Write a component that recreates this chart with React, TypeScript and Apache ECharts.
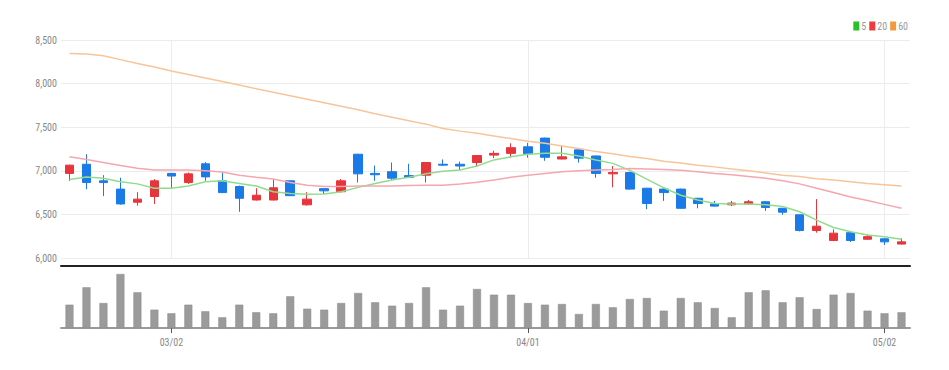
import { useEffect, useRef } from "react";
import * as echarts from "echarts";

const dates = [
  "2022-02-21", "2022-02-22", "2022-02-23", "2022-02-24", "2022-02-25", "2022-02-28",
  "2022-03-02", "2022-03-03", "2022-03-04", "2022-03-07", "2022-03-08", "2022-03-10",
  "2022-03-11", "2022-03-14", "2022-03-15", "2022-03-16", "2022-03-17", "2022-03-18",
  "2022-03-21", "2022-03-22", "2022-03-23", "2022-03-24", "2022-03-25", "2022-03-28",
  "2022-03-29", "2022-03-30", "2022-03-31", "2022-04-01", "2022-04-04", "2022-04-05",
  "2022-04-06", "2022-04-07", "2022-04-08", "2022-04-11", "2022-04-12", "2022-04-13",
  "2022-04-14", "2022-04-15", "2022-04-18", "2022-04-19", "2022-04-20", "2022-04-21",
  "2022-04-22", "2022-04-25", "2022-04-26", "2022-04-27", "2022-04-28", "2022-04-29",
  "2022-05-02", "2022-05-03",
];

const opens = [
  6970, 7075, 6885, 6790, 6640, 6705, 6970, 6865, 7080, 6885,
  6820, 6665, 6665, 6885, 6610, 6795, 6760, 7190, 6970, 6990,
  6945, 6950, 7075, 7075, 7095, 7180, 7200, 7275, 7375, 7135,
  7240, 7170, 6965, 6980, 6800, 6790, 6790, 6685, 6620, 6610,
  6620, 6645, 6570, 6495, 6315, 6200, 6290, 6215, 6220, 6160,
];
const closes = [
  7065, 6865, 6865, 6620, 6675, 6885, 6940, 6965, 6930, 6750,
  6685, 6720, 6805, 6715, 6675, 6770, 6885, 6965, 6955, 6915,
  6925, 7095, 7065, 7055, 7175, 7200, 7265, 7195, 7155, 7160,
  7145, 6970, 6980, 6790, 6625, 6750, 6570, 6625, 6595, 6630,
  6645, 6580, 6525, 6315, 6365, 6285, 6200, 6245, 6185, 6185,
];
const lows = [
  6885, 6790, 6710, 6610, 6600, 6620, 6800, 6850, 6885, 6745,
  6530, 6660, 6660, 6710, 6600, 6735, 6750, 6865, 6885, 6895,
  6920, 6865, 7055, 7010, 7045, 7145, 7150, 7150, 7115, 7130,
  7095, 6920, 6810, 6785, 6560, 6655, 6565, 6570, 6590, 6595,
  6610, 6540, 6495, 6305, 6290, 6195, 6185, 6210, 6150, 6155,
];
const highs = [
  7070, 7190, 6950, 6920, 6755, 6905, 6975, 6980, 7100, 6980,
  6830, 6800, 6905, 6890, 6755, 6800, 6905, 7195, 7060, 7095,
  7080, 7100, 7130, 7105, 7180, 7230, 7315, 7320, 7380, 7285,
  7245, 7175, 7055, 6990, 6805, 6800, 6795, 6690, 6655, 6655,
  6665, 6650, 6575, 6500, 6675, 6330, 6310, 6270, 6225, 6225,
];

const volumes = [
  233000, 407000, 250000, 540000, 357000, 183000, 147000, 233000, 167000, 107000,
  233000, 157000, 147000, 317000, 193000, 183000, 250000, 350000, 257000, 223000,
  250000, 407000, 183000, 223000, 390000, 333000, 333000, 250000, 233000, 240000,
  140000, 240000, 207000, 290000, 300000, 173000, 300000, 257000, 200000, 107000,
  357000, 377000, 257000, 307000, 190000, 333000, 350000, 173000, 147000, 157000,
];

const ma5 = [
  6900, 6930, 6915, 6875, 6850, 6800, 6800, 6825, 6875, 6885,
  6855, 6825, 6760, 6740, 6730, 6735, 6760, 6810, 6855, 6895,
  6925, 6965, 6995, 7010, 7055, 7125, 7160, 7190, 7200, 7200,
  7170, 7125, 7085, 7005, 6905, 6805, 6720, 6665, 6625, 6620,
  6620, 6610, 6590, 6530, 6435, 6350, 6300, 6265, 6245, 6215,
];
const ma20 = [
  7160, 7130, 7095, 7060, 7030, 7010, 7010, 7010, 7000, 6985,
  6950, 6925, 6905, 6865, 6835, 6820, 6820, 6825, 6825, 6825,
  6830, 6835, 6835, 6850, 6870, 6895, 6925, 6950, 6970, 6990,
  7000, 7010, 7015, 7025, 7020, 7015, 7005, 6990, 6970, 6955,
  6935, 6915, 6885, 6850, 6800, 6750, 6700, 6660, 6615, 6570,
];
const ma60 = [
  8345, 8340, 8320, 8275, 8230, 8190, 8145, 8105, 8065, 8025,
  7985, 7940, 7900, 7860, 7820, 7780, 7740, 7700, 7655, 7615,
  7575, 7535, 7485, 7455, 7430, 7400, 7370, 7340, 7315, 7285,
  7255, 7220, 7195, 7165, 7140, 7110, 7090, 7065, 7045, 7020,
  7000, 6975, 6950, 6935, 6910, 6895, 6875, 6855, 6840, 6825,
];

const legendNames = ["5", "20", "60"];

const FONT = "'Liberation Sans Narrow', 'Roboto Condensed', 'Liberation Sans', sans-serif";

export default function App() {
  const ref = useRef<HTMLDivElement>(null);
  useEffect(() => {
    const chart = echarts.init(ref.current!, null, { renderer: "svg" });
    const isMonthStart = (i: number) =>
      i > 0 && dates[i].slice(5, 7) !== dates[i - 1].slice(5, 7);
    const labels = dates.map((d) => d.slice(5, 7) + "/" + d.slice(8, 10));
    const markInterval = (i: number) => isMonthStart(i);

    const option: any = {
      animation: false,
      backgroundColor: "#ffffff",
      textStyle: { fontFamily: FONT },
      legend: {
        data: legendNames,
        right: 36,
        top: 16,
        icon: "rect",
        itemWidth: 6,
        itemHeight: 9,
        itemGap: 3,
        textStyle: { fontSize: 10, color: "#999", fontFamily: FONT, padding: [0, 0, 0, -3] },
      },
      grid: [
        { left: 61, right: 39, top: 40, height: 218 },
        { left: 61, right: 39, top: 266, height: 62 },
      ],
      xAxis: [
        {
          type: "category",
          gridIndex: 0,
          data: labels,
          boundaryGap: true,
          axisLine: { show: false },
          axisTick: { show: false },
          axisLabel: { show: false },
          splitLine: {
            show: true,
            alignWithLabel: true,
            interval: markInterval,
            lineStyle: { color: "#ececec", width: 1 },
          },
        },
        {
          type: "category",
          gridIndex: 1,
          data: labels,
          boundaryGap: true,
          position: "bottom",
          axisLine: { show: true, lineStyle: { color: "#9a9a9a", width: 2 } },
          axisTick: {
            show: true,
            alignWithLabel: true,
            interval: markInterval,
            length: 5,
            lineStyle: { color: "#555" },
          },
          axisLabel: {
            show: true,
            interval: markInterval,
            color: "#888",
            fontSize: 10,
            margin: 9,
            fontFamily: FONT,
          },
          splitLine: { show: false },
        },
        {
          type: "category",
          gridIndex: 1,
          data: labels,
          position: "top",
          axisLine: { show: true, lineStyle: { color: "#222", width: 2 } },
          axisTick: { show: false },
          axisLabel: { show: false },
          splitLine: { show: false },
        },
      ],
      yAxis: [
        {
          type: "value",
          gridIndex: 0,
          min: 6000,
          max: 8500,
          interval: 500,
          axisLine: { show: false },
          axisTick: { show: false },
          axisLabel: {
            color: "#888",
            fontSize: 10,
            margin: 4,
            fontFamily: FONT,
            formatter: (v: number) => v.toLocaleString("en-US"),
          },
          splitLine: { lineStyle: { color: "#ececec" } },
        },
        {
          type: "value",
          gridIndex: 1,
          min: 0,
          max: 620000,
          show: false,
          splitLine: { show: false },
        },
      ],
      series: [
        {
          name: "candle",
          type: "candlestick",
          xAxisIndex: 0,
          yAxisIndex: 0,
          barWidth: 9,
          data: dates.map((_, i) => [opens[i], closes[i], lows[i], highs[i]]),
          itemStyle: {
            color: "#e8343b",
            color0: "#1a7ae8",
            borderColor: "#e8343b",
            borderColor0: "#1a7ae8",
            borderWidth: 1,
          },
        },
        {
          name: "5",
          type: "line",
          xAxisIndex: 0,
          yAxisIndex: 0,
          data: ma5,
          symbol: "none",
          smooth: false,
          color: "#2bbf2b",
          lineStyle: { color: "#8fdc8f", width: 1.5 },
        },
        {
          name: "20",
          type: "line",
          xAxisIndex: 0,
          yAxisIndex: 0,
          data: ma20,
          symbol: "none",
          color: "#ef3b3b",
          lineStyle: { color: "#f5a6ae", width: 1.5 },
        },
        {
          name: "60",
          type: "line",
          xAxisIndex: 0,
          yAxisIndex: 0,
          data: ma60,
          symbol: "none",
          color: "#f39a3c",
          lineStyle: { color: "#f7c598", width: 1.5 },
        },
        {
          name: "volume",
          type: "bar",
          xAxisIndex: 1,
          yAxisIndex: 1,
          data: volumes,
          barWidth: 8,
          itemStyle: { color: "#9b9b9b", borderColor: "#8a8a8a", borderWidth: 0.5 },
        },
      ],
    };
    chart.setOption(option);
    return () => chart.dispose();
  }, []);
  return (
    <div
      ref={ref}
      style={{ position: "fixed", left: 0, top: 0, width: 949, height: 370 }}
    />
  );
}
